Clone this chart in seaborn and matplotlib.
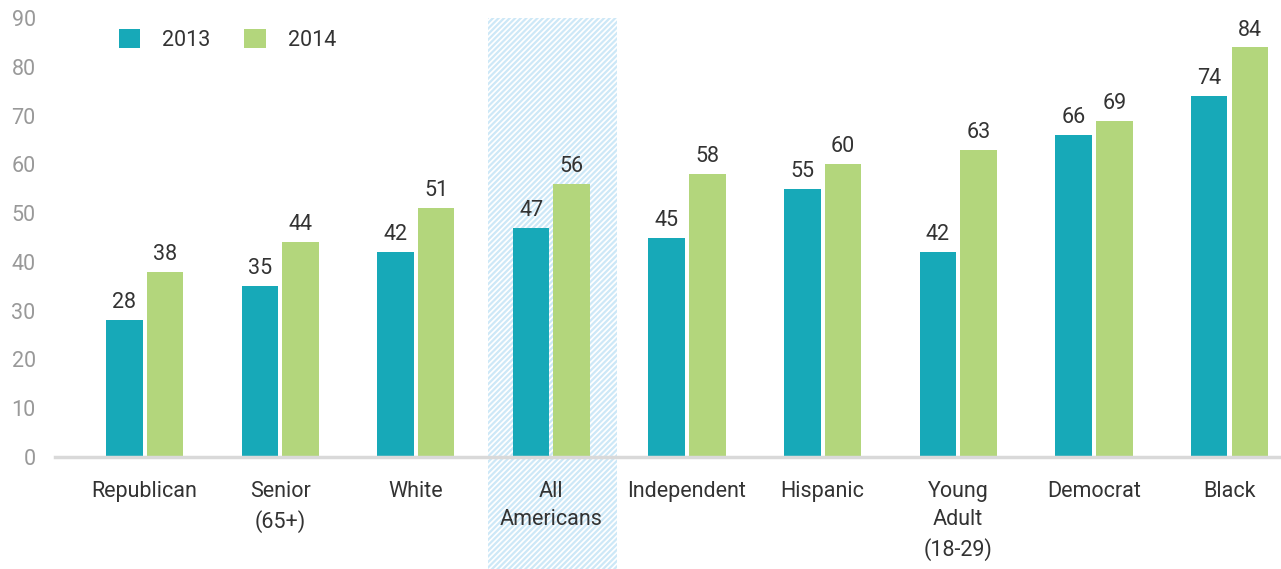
import pandas as pd
import seaborn as sns
import matplotlib.pyplot as plt
import matplotlib.transforms as mtransforms
from matplotlib.patches import Rectangle

# Chart data
groups = ['Republican', 'Senior\n(65+)', 'White', 'All\nAmericans', 'Independent',
          'Hispanic', 'Young\nAdult\n(18-29)', 'Democrat', 'Black']
years = ['2013', '2014']
vals_2013 = [28, 35, 42, 47, 45, 55, 42, 66, 74]
vals_2014 = [38, 44, 51, 56, 58, 60, 63, 69, 84]
highlight = 'All\nAmericans'

df = pd.DataFrame({
    'group': groups * 2,
    'year': [years[0]] * len(groups) + [years[1]] * len(groups),
    'value': vals_2013 + vals_2014,
})

sns.set_style('white')
plt.rcParams['font.family'] = ['Roboto', 'DejaVu Sans']
plt.rcParams['hatch.linewidth'] = 1.6

fig = plt.figure(figsize=(12.81, 5.69), dpi=100)
ax = fig.add_axes([0.043, 0.197, 0.957, 0.771])

palette = {'2013': '#17a9b8', '2014': '#b3d67c'}
sns.barplot(data=df, x='group', y='value', hue='year', palette=palette,
            width=0.6, gap=0.1, ax=ax, saturation=1, edgecolor='none')

# value labels
for cont in ax.containers:
    ax.bar_label(cont, padding=5, fontsize=15.5, color='#333333')

ax.set_ylim(0, 90)
ax.set_xlim(-0.66, 8.38)
ax.set_yticks(range(0, 91, 10))
ax.tick_params(axis='y', labelsize=15.5, labelcolor='#999999', length=0, pad=14)
ax.tick_params(axis='x', labelsize=15.5, labelcolor='#333333', length=0, pad=17)
for lbl in ax.get_xticklabels():
    lbl.set_linespacing(1.45)
ax.set_xlabel('')
ax.set_ylabel('')
for s in ['top', 'right', 'left']:
    ax.spines[s].set_visible(False)
ax.spines['bottom'].set_color('#d9d9d9')
ax.spines['bottom'].set_linewidth(2.5)

# hatched highlight behind "All Americans"
hi = groups.index(highlight)
trans = mtransforms.blended_transform_factory(ax.transData, ax.transAxes)
ax.add_patch(Rectangle((hi - 0.47, -0.26), 0.95, 1.26, transform=trans,
                       facecolor='none', edgecolor='#cde8f7', hatch='//////',
                       linewidth=0, clip_on=False, zorder=0))

ax.legend(loc='upper left', bbox_to_anchor=(0.036, 1.02), ncol=2, frameon=False,
          fontsize=15.5, handlelength=1.0, handleheight=1.0, columnspacing=1.6,
          handletextpad=1.0, labelcolor='#333333')

fig.savefig('out.png', dpi=100)
